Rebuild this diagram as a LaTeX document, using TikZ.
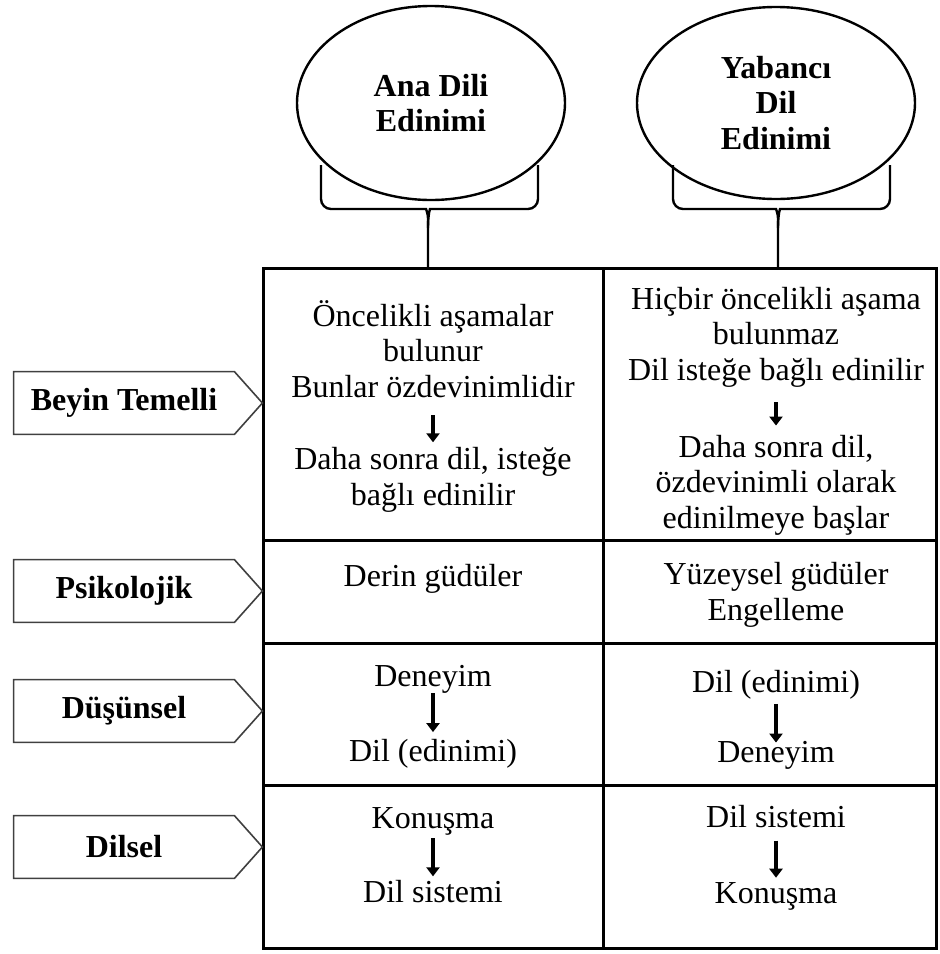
\documentclass[tikz,border=0pt]{standalone}
\usepackage{fontspec}
\setmainfont{Liberation Serif}
\usetikzlibrary{shapes.geometric, arrows.meta}
\tikzstyle{lang} = [ellipse, draw=black, line width=1.2pt, align=center, inner sep=0pt, font=\bfseries\fontsize{16pt}{17.75pt}\selectfont]
\tikzstyle{aspect} = [rectangle, minimum width=110pt, minimum height=31pt, inner sep=0pt, font=\bfseries\fontsize{16pt}{17.75pt}\selectfont]
\tikzstyle{tag} = [draw=black!75, line width=0.8pt]
\tikzstyle{cell} = [align=center, inner sep=0pt, font=\fontsize{16pt}{17.75pt}\selectfont]
\tikzstyle{brace} = [line width=1.2pt, rounded corners=5pt]
\tikzstyle{grid} = [line width=1.5pt]
\tikzstyle{flow} = [line width=2.4pt, -{Triangle[length=4.5pt, width=6.5pt]}]

\begin{document}
\begin{tikzpicture}[x=0.5pt, y=-0.5pt]
		\useasboundingbox (0,0) rectangle (939,954);

		\node (ana) [lang, minimum width=134pt, minimum height=97pt] at (431,103) {Ana Dili\\Edinimi};
		\node (yab) [lang, minimum width=139pt, minimum height=96pt] at (776,103) {Yabancı\\Dil\\Edinimi};

		\coordinate (tl) at (263,268);
		\coordinate (br) at (936,948);
		\coordinate (anaroot) at (428,268);
		\coordinate (yabroot) at (778,268);

		\draw[brace] (321,165) -- (321,209) -- (416,209) .. controls (426,209) and (428,214) .. (428,228) -- (anaroot);
		\draw[brace] (538,165) -- (538,209) -- (440,209) .. controls (430,209) and (428,214) .. (428,228);
		\draw[brace] (673,165) -- (673,209) -- (766,209) .. controls (776,209) and (778,214) .. (778,228) -- (yabroot);
		\draw[brace] (890,165) -- (890,209) -- (790,209) .. controls (780,209) and (778,214) .. (778,228);

		\draw[grid] (tl) rectangle (br);
		\draw[grid] (263,540) -- (936,540);
		\draw[grid] (263,643) -- (936,643);
		\draw[grid] (263,785) -- (936,785);
		\draw[grid] (603,268) -- (603,948);

		\node (beyin) [aspect] at (124,403) {Beyin Temelli};
		\node (psiko) [aspect] at (124,591) {Psikolojik};
		\node (dusun) [aspect] at (124,711) {Düşünsel};
		\node (dilsel) [aspect] at (124,847) {Dilsel};
		\foreach \t in {beyin, psiko, dusun, dilsel}
			\draw[tag] (\t.north west) -- (\t.north east) -- ([xshift=14pt]\t.east) -- (\t.south east) -- (\t.south west) -- cycle;

		\node (a1) [cell] at (433,349) {Öncelikli aşamalar\\bulunur\\Bunlar özdevinimlidir};
		\node (a1b) [cell] at (433,480) {Daha sonra dil, isteğe\\bağlı edinilir};
		\node (b1) [cell] at (776,337) {Hiçbir öncelikli aşama\\bulunmaz\\Dil isteğe bağlı edinilir};
		\node (b1b) [cell] at (776,485) {Daha sonra dil,\\özdevinimli olarak\\edinilmeye başlar};

		\node (a2) [cell] at (433,579) {Derin güdüler};
		\node (b2) [cell] at (776,595) {Yüzeysel güdüler\\Engelleme};

		\node (a3) [cell] at (433,679) {Deneyim};
		\node (a3b) [cell] at (433,754) {Dil (edinimi)};
		\node (b3) [cell] at (776,685) {Dil (edinimi)};
		\node (b3b) [cell] at (776,755) {Deneyim};

		\node (a4) [cell] at (433,821) {Konuşma};
		\node (a4b) [cell] at (433,892) {Dil sistemi};
		\node (b4) [cell] at (776,817) {Dil sistemi};
		\node (b4b) [cell] at (776,896) {Konuşma};

		\draw [flow, shorten <=8.5pt, shorten >=2.5pt] (a1) -- (a1b);
		\draw [flow, shorten <=7.5pt, shorten >=4.5pt] (b1) -- (b1b);
		\draw [flow, shorten <=0pt, shorten >=3.5pt] (a3) -- (a3b);
		\draw [flow, shorten <=2pt, shorten >=-1pt] (b3) -- (b3b);
		\draw [flow, shorten <=1.5pt, shorten >=2pt] (a4) -- (a4b);
		\draw [flow, shorten <=6pt, shorten >=2pt] (b4) -- (b4b);
	  \end{tikzpicture}
\end{document}
